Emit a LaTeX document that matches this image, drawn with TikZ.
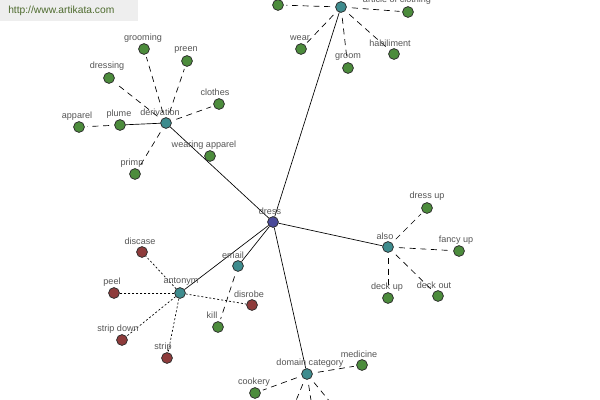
\documentclass[tikz,border=0pt]{standalone}
\usepackage{fontspec}
\newfontfamily\lblfont{Liberation Sans}
\definecolor{gnode}{HTML}{4C8C3C}
\definecolor{rnode}{HTML}{8E3B3B}
\definecolor{tnode}{HTML}{3E8C8E}
\definecolor{bnode}{HTML}{4A4A9A}
\definecolor{lbltext}{HTML}{555555}
\definecolor{wmbg}{HTML}{EEEEEE}
\definecolor{wmtext}{HTML}{4E6B2E}
\tikzset{
  vert/.style={circle, draw=black!80, line width=0.5pt, minimum size=8pt, inner sep=0pt},
  gn/.style={vert, fill=gnode},
  rn/.style={vert, fill=rnode},
  tn/.style={vert, fill=tnode},
  bn/.style={vert, fill=bnode},
  lbl/.style={font=\lblfont\fontsize{6.8}{7}\selectfont, text=lbltext, inner sep=0pt},
  solidedge/.style={draw=black, line width=0.5pt},
  dashedge/.style={draw=black, line width=0.5pt, dash pattern=on 4.5pt off 3.5pt, shorten <=4pt, shorten >=2pt},
  dotedge/.style={draw=black, line width=0.5pt, dash pattern=on 1.5pt off 1.5pt},
}
\begin{document}
\begin{tikzpicture}[x=0.75pt, y=-0.75pt]
\useasboundingbox (0,0) rectangle (600,400);
\fill[white] (0,0) rectangle (600,400);
\clip (0,0) rectangle (600,400);
% nodes: hubs
\node[bn] (dress) at (273,222) {};
\node[tn] (deriv) at (166,123) {};
\node[tn] (top) at (341,7) {};
\node[tn] (email) at (238,266) {};
\node[tn] (anton) at (180,293) {};
\node[tn] (also) at (388,247) {};
\node[tn] (domain) at (307,374) {};
% leaves of derivation
\node[gn] (grooming) at (144,49) {};
\node[gn] (preen) at (187,61) {};
\node[gn] (dressing) at (109,78) {};
\node[gn] (clothes) at (219,104) {};
\node[gn] (apparel) at (79,127) {};
\node[gn] (plume) at (120,125) {};
\node[gn] (wearapp) at (210,156) {};
\node[gn] (primp) at (135,174) {};
% leaves of top hub
\node[gn] (tl) at (278,5) {};
\node[gn] (article) at (408,12) {};
\node[gn] (wear) at (301,49) {};
\node[gn] (habil) at (394,54) {};
\node[gn] (groom) at (348,68) {};
\coordinate (ul) at (322,-14);
\coordinate (ur) at (358,-14);
% leaves of antonym
\node[rn] (discase) at (142,252) {};
\node[rn] (peel) at (114,293) {};
\node[rn] (disrobe) at (252,305) {};
\node[rn] (stripdown) at (122,340) {};
\node[rn] (strip) at (167,358) {};
\node[gn] (kill) at (218,327) {};
% leaves of also
\node[gn] (dressup) at (427,208) {};
\node[gn] (fancyup) at (459,251) {};
\node[gn] (deckup) at (388,298) {};
\node[gn] (deckout) at (438,296) {};
% leaves of domain
\node[gn] (medicine) at (362,365) {};
\node[gn] (cookery) at (255,393) {};
\coordinate (d1) at (288,420);
\coordinate (d2) at (314,420);
\coordinate (d3) at (345,420);
% edges
\path[solidedge] (dress) -- (deriv);
\path[solidedge] (dress) -- (top);
\path[solidedge] (dress) -- (email);
\path[solidedge] (dress) -- (anton);
\path[solidedge] (dress) -- (also);
\path[solidedge] (dress) -- (domain);
\path[solidedge] (deriv) -- (plume);
\path[dashedge] (plume) -- (apparel);
\path[dashedge] (deriv) -- (grooming);
\path[dashedge] (deriv) -- (preen);
\path[dashedge] (deriv) -- (dressing);
\path[dashedge] (deriv) -- (clothes);
\path[dashedge] (deriv) -- (primp);
\path[dashedge] (top) -- (tl);
\path[dashedge] (top) -- (article);
\path[dashedge] (top) -- (wear);
\path[dashedge] (top) -- (habil);
\path[dashedge] (top) -- (groom);
\path[dashedge] (top) -- (ul);
\path[dashedge] (top) -- (ur);
\path[dotedge] (anton) -- (discase);
\path[dotedge] (anton) -- (peel);
\path[dotedge] (anton) -- (disrobe);
\path[dotedge] (anton) -- (stripdown);
\path[dotedge] (anton) -- (strip);
\path[dashedge] (email) -- (kill);
\path[dashedge] (also) -- (dressup);
\path[dashedge] (also) -- (fancyup);
\path[dashedge] (also) -- (deckup);
\path[dashedge] (also) -- (deckout);
\path[dashedge] (domain) -- (medicine);
\path[dashedge] (domain) -- (cookery);
\path[dashedge] (domain) -- (d1);
\path[dashedge] (domain) -- (d2);
\path[dashedge] (domain) -- (d3);
% redraw nodes on top of the connectors
\foreach \n/\s in {dress/bn,deriv/tn,top/tn,email/tn,anton/tn,also/tn,domain/tn,
  grooming/gn,preen/gn,dressing/gn,clothes/gn,apparel/gn,plume/gn,wearapp/gn,primp/gn,
  tl/gn,article/gn,wear/gn,habil/gn,groom/gn,
  discase/rn,peel/rn,disrobe/rn,stripdown/rn,strip/rn,kill/gn,
  dressup/gn,fancyup/gn,deckup/gn,deckout/gn,medicine/gn,cookery/gn}
  {\node[\s] (\n-top) at (\n.center) {};}
% labels
\node[lbl] (l-dress) at (270,211) {dress};
\node[lbl] (l-deriv) at (160,112) {derivation};
\node[lbl] (l-grooming) at (143,38) {grooming};
\node[lbl] (l-preen) at (186,50) {preen};
\node[lbl] (l-dressing) at (107,66) {dressing};
\node[lbl] (l-clothes) at (215,92) {clothes};
\node[lbl] (l-apparel) at (77,116) {apparel};
\node[lbl] (l-plume) at (119,114) {plume};
\node[lbl] (l-wearapp) at (204,145) {wearing apparel};
\node[lbl] (l-primp) at (132,163) {primp};
\node[lbl] (l-article) at (397,0) {article of clothing};
\node[lbl] (l-wear) at (300,38) {wear};
\node[lbl] (l-habil) at (390,43) {habiliment};
\node[lbl] (l-groom) at (348,57) {groom};
\node[lbl] (l-email) at (233,255) {email};
\node[lbl] (l-anton) at (181,282) {antonym};
\node[lbl] (l-discase) at (140,241) {discase};
\node[lbl] (l-peel) at (112,282) {peel};
\node[lbl] (l-disrobe) at (249,294) {disrobe};
\node[lbl] (l-kill) at (212,315) {kill};
\node[lbl] (l-stripdown) at (118,329) {strip down};
\node[lbl] (l-strip) at (163,347) {strip};
\node[lbl] (l-also) at (385,236) {also};
\node[lbl] (l-dressup) at (427,196) {dress up};
\node[lbl] (l-fancyup) at (456,240) {fancy up};
\node[lbl] (l-deckup) at (387,287) {deck up};
\node[lbl] (l-deckout) at (434,285) {deck out};
\node[lbl] (l-domain) at (310,363) {domain category};
\node[lbl] (l-medicine) at (359,354) {medicine};
\node[lbl] (l-cookery) at (254,382) {cookery};
% watermark
\fill[wmbg] (0,0) rectangle (138,21);
\node[font=\lblfont\fontsize{7.7}{8}\selectfont, text=wmtext, inner sep=0pt, anchor=west] (wm) at (8,11) {http://www.artikata.com};
\end{tikzpicture}
\end{document}
